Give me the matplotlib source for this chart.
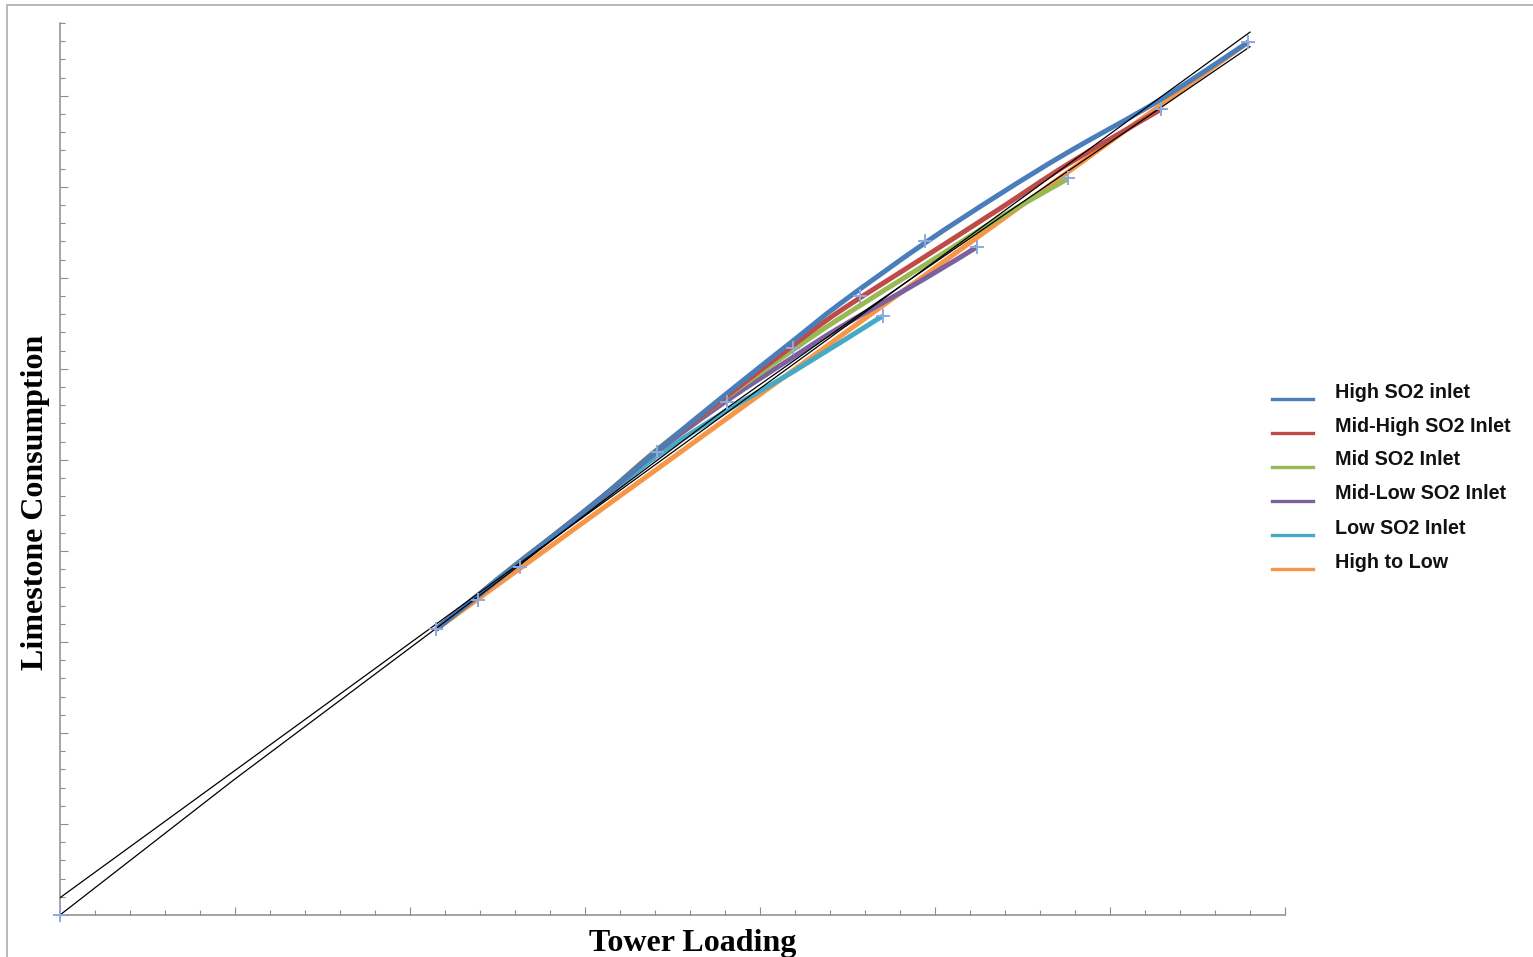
import matplotlib
matplotlib.use('Agg')
import matplotlib.pyplot as plt
from matplotlib.lines import Line2D
from matplotlib.patches import Rectangle, PathPatch
from matplotlib.path import Path
from matplotlib.ticker import MultipleLocator

# series (arbitrary units: x 0-70, y 0-98)
high_x = [21.5, 26.3, 30.9, 34.1, 38.1, 41.9, 44.6, 49.4, 53.7, 57.6, 62.9, 67.9]
high_y = [31.4, 38.8, 45.8, 51.0, 57.3, 63.1, 67.2, 73.8, 79.2, 83.8, 89.6, 95.9]

midhigh_x = [21.5, 26.3, 30.9, 34.1, 38.1, 41.9, 44.6, 49.4, 53.7, 57.6, 62.9]
midhigh_y = [31.4, 38.8, 45.8, 51.0, 57.0, 62.6, 66.4, 72.3, 77.6, 82.5, 88.5]

mid_x = [21.5, 26.3, 30.9, 34.1, 38.1, 41.9, 44.6, 49.4, 53.7, 57.6]
mid_y = [31.4, 38.8, 45.8, 51.1, 56.9, 62.1, 65.6, 71.4, 76.6, 80.9]

midlow_x = [21.5, 26.3, 30.9, 34.1, 38.1, 41.9, 44.6, 49.4, 52.4]
midlow_y = [31.4, 38.8, 45.7, 50.9, 56.5, 61.3, 64.6, 69.9, 73.4]

low_x = [21.5, 26.3, 30.9, 34.1, 38.1, 41.9, 47.0]
low_y = [31.4, 38.9, 45.5, 50.4, 55.4, 59.7, 65.8]

hightolow_x = [21.5, 44.6, 67.9]
hightolow_y = [31.4, 63.6, 95.9]

# data points
pts_x = [0, 21.5, 23.9, 26.3, 34.1, 38.1, 41.9, 45.7, 47.0, 49.4, 52.4, 57.6, 62.9, 67.9]
pts_y = [0, 31.4, 34.6, 38.2, 50.9, 56.4, 62.3, 68.0, 65.8, 74.0, 73.4, 81.0, 88.5, 95.9]

# black reference lines
fit_x = [0, 68.0]
fit_y = [1.9, 97.0]
trend_x = [0, 9.9, 21.5, 26.3, 30.9, 38.1, 45.7, 53.7, 62.9, 68.0]
trend_y = [0, 14.8, 31.5, 38.5, 45.3, 55.7, 66.0, 76.6, 88.7, 95.4]

names = ['High SO2 inlet', 'Mid-High SO2 Inlet', 'Mid SO2 Inlet',
         'Mid-Low SO2 Inlet', 'Low SO2 Inlet', 'High to Low']
colors = ['#4a7ebb', '#be4b48', '#98b954', '#7d60a0', '#46aac5', '#f79646']
series = [(high_x, high_y), (midhigh_x, midhigh_y), (mid_x, mid_y),
          (midlow_x, midlow_y), (low_x, low_y), (hightolow_x, hightolow_y)]


def smooth_path(xs, ys):
    # Catmull-Rom style bezier through the points (like a smoothed line chart)
    p = list(zip(xs, ys))
    verts = [p[0]]
    codes = [Path.MOVETO]
    n = len(p)
    for i in range(n - 1):
        p0 = p[i - 1] if i > 0 else p[i]
        p1, p2 = p[i], p[i + 1]
        p3 = p[i + 2] if i + 2 < n else p[i + 1]
        c1 = (p1[0] + (p2[0] - p0[0]) / 6, p1[1] + (p2[1] - p0[1]) / 6)
        c2 = (p2[0] - (p3[0] - p1[0]) / 6, p2[1] - (p3[1] - p1[1]) / 6)
        verts += [c1, c2, p2]
        codes += [Path.CURVE4] * 3
    return Path(verts, codes)


W, H = 1533, 957
fig = plt.figure(figsize=(W / 100, H / 100), dpi=100)
ax = fig.add_axes([60 / W, 42 / H, 1225 / W, 892 / H])

# colored curves, drawn last-to-first so blue sits on top
for (xs, ys), c in reversed(list(zip(series, colors))):
    ax.add_patch(PathPatch(smooth_path(xs, ys), fill=False, edgecolor=c,
                           lw=3.6, capstyle='butt', zorder=2))

ax.plot(fit_x, fit_y, color='black', lw=0.9, zorder=3)
ax.plot(trend_x, trend_y, color='black', lw=0.9, zorder=3)
ax.plot(pts_x, pts_y, ls='none', marker='+', ms=10, mew=1.4,
        color='#8eaadb', zorder=4, clip_on=False)

ax.set_xlim(0, 70)
ax.set_ylim(0, 98)
ax.xaxis.set_major_locator(MultipleLocator(10))
ax.xaxis.set_minor_locator(MultipleLocator(2))
ax.yaxis.set_major_locator(MultipleLocator(10))
ax.yaxis.set_minor_locator(MultipleLocator(2))
ax.tick_params(which='both', direction='in', color='#8c8c8c', width=0.8,
               labelbottom=False, labelleft=False)
ax.tick_params(which='major', length=5.5)
ax.tick_params(which='minor', length=3.6)
for side in ['top', 'right']:
    ax.spines[side].set_visible(False)
for side in ['left', 'bottom']:
    ax.spines[side].set_color('#8c8c8c')
    ax.spines[side].set_linewidth(1.1)

fig.text(693 / W, 1 - 943 / H, 'Tower Loading', ha='center', va='center',
         family='Liberation Serif', weight='bold', fontsize=23)
fig.text(36 / W, 1 - 502 / H, 'Limestone Consumption', ha='center', va='center',
         rotation=90, family='Liberation Serif', weight='bold', fontsize=23)

# legend
for i, (name, c) in enumerate(zip(names, colors)):
    yt = 390 + 34 * i
    fig.add_artist(Line2D([1272 / W, 1313 / W], [1 - (yt + 9) / H] * 2,
                          color=c, lw=2.4))
    fig.text(1335 / W, 1 - (yt + 2) / H, name, ha='left', va='center',
             family='Liberation Sans', weight='bold', fontsize=14.2, color='#111111')

# outer frame
fig.add_artist(Rectangle((7 / W, -0.1), 1.2, 1 - 5 / H + 0.1, fill=False,
                         edgecolor='#a6a6a6', lw=1.1, transform=fig.transFigure))

fig.savefig('out.png', dpi=100)
